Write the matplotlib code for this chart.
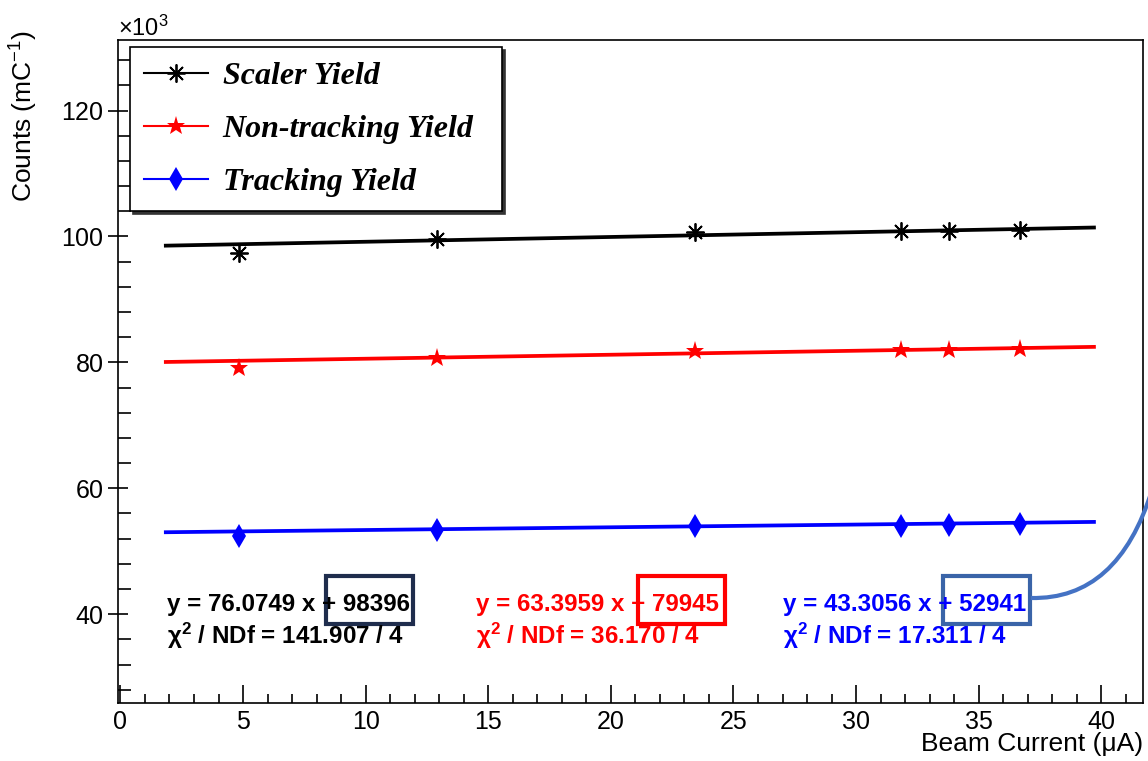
import numpy as np
import matplotlib
matplotlib.use("Agg")
import matplotlib.pyplot as plt
from matplotlib.lines import Line2D
from matplotlib.patches import Rectangle, PathPatch
from matplotlib.path import Path
from matplotlib.ticker import MultipleLocator

# beam current (uA)
current = [4.85, 12.91, 23.45, 31.85, 33.78, 36.70]
# yields (counts / mC)
scaler_yield = [97410, 99630, 100750, 100840, 100900, 101000]
nontrack_yield = [79060, 80650, 81810, 81970, 81970, 82080]
track_yield = [52380, 53440, 53970, 54080, 54240, 54290]

# fit results (slope, intercept, chi2, ndf)
fit_scaler = (76.0749, 98396, 141.907, 4)
fit_nontrack = (63.3959, 79945, 36.170, 4)
fit_track = (43.3056, 52941, 17.311, 4)

labels = ["Scaler Yield", "Non-tracking Yield", "Tracking Yield"]
colors = ["black", "#ff0000", "#0000ff"]
box_colors = ["#1f2d4d", "#ff0000", "#3a64a8"]

plt.rcParams['font.family'] = ['Liberation Sans', 'DejaVu Sans']
plt.rcParams['mathtext.default'] = 'regular'

W, H = 1148, 761
fig = plt.figure(figsize=(W / 100, H / 100), dpi=100)
ax = fig.add_axes([118 / W, 1 - 703 / H, 1025 / W, 663 / H])

def fx(px):
    return px / W

def fy(py):
    return 1 - py / H

series = [scaler_yield, nontrack_yield, track_yield]
fits = [fit_scaler, fit_nontrack, fit_track]
markers = [dict(marker=(8, 2, 0), ms=13, mew=1.3),
           dict(marker='*', ms=14, mew=0),
           dict(marker='d', ms=12.5, mew=0)]

xfit = np.array([min(current) - 3, max(current) + 3])
handles = []
for ys, fit, col, mk, lab in zip(series, fits, colors, markers, labels):
    ax.plot(xfit, fit[0] * xfit + fit[1], color=col, lw=2.7, zorder=2)
    ax.plot(current, ys, ls='none', color=col, mec=col, zorder=3, **mk)
    handles.append(Line2D([], [], color=col, lw=1.5, mec=col, label=lab, **mk))

ax.set_xlim(-0.1, 41.7)
ax.set_ylim(25900, 131200)
ax.xaxis.set_major_locator(MultipleLocator(5))
ax.xaxis.set_minor_locator(MultipleLocator(1))
ax.yaxis.set_major_locator(MultipleLocator(20000))
ax.yaxis.set_minor_locator(MultipleLocator(4000))
ax.ticklabel_format(axis='y', style='sci', scilimits=(3, 3), useMathText=True)
ax.yaxis.get_offset_text().set_fontsize(17)

ax.tick_params(axis='x', which='major', direction='in', length=13, width=1.2,
               labelsize=18, pad=5)
ax.tick_params(axis='x', which='minor', direction='in', length=6.5, width=1.2)
ax.tick_params(axis='y', which='major', direction='inout', length=15, width=1.2,
               labelsize=18, pad=3)
ax.tick_params(axis='y', which='minor', direction='in', length=9.5, width=1.2)
for sp in ax.spines.values():
    sp.set_linewidth(1.2)

ax.set_xlabel("Beam Current (\u03bcA)", fontsize=19, loc='right')
ax.xaxis.set_label_coords(1.0, -0.043)
ax.set_ylabel("Counts (mC$^{-1}$)", fontsize=19, loc='top')
ax.yaxis.set_label_coords(-0.076, 1.015)

leg = ax.legend(handles=handles, loc='upper left',
                bbox_to_anchor=(0.0117, 0.7511, 0.3629, 0.2383), mode='expand',
                borderaxespad=0, fancybox=False,
                shadow={'color': '#333333', 'alpha': 1, 'ox': 2, 'oy': -2},
                edgecolor='black', framealpha=1, handlelength=2.0, handletextpad=0.45,
                labelspacing=0.74, borderpad=0.45,
                prop=dict(family='Liberation Serif', weight='bold', style='italic', size=23))
leg.get_frame().set_linewidth(1.2)

# fit result texts
text_x = [167, 476, 783]
for tx, fit, col in zip(text_x, fits, colors):
    fig.text(fx(tx), fy(604), "y = %.4f x + %d" % (fit[0], fit[1]), color=col,
             fontsize=17.4, weight='bold', va='center', ha='left')
    fig.text(fx(tx), fy(636), r"$\chi^{2}$ / NDf = %.3f / %d" % (fit[2], fit[3]),
             color=col, fontsize=17.4, weight='bold', va='center', ha='left')

# highlight boxes around intercepts
box_x = [326, 638, 943]
for bx, bc in zip(box_x, box_colors):
    fig.patches.append(Rectangle((fx(bx), fy(624)), 87 / W, 48 / H, fill=False,
                                 ec=bc, lw=3, transform=fig.transFigure))

verts = [(fx(1031), fy(598)), (fx(1118), fy(600)), (fx(1152), fy(490))]
curve = PathPatch(Path(verts, [Path.MOVETO, Path.CURVE3, Path.CURVE3]),
                  fc='none', ec='#4472c4', lw=3, transform=fig.transFigure)
fig.patches.append(curve)

fig.savefig("out.png", dpi=100)
